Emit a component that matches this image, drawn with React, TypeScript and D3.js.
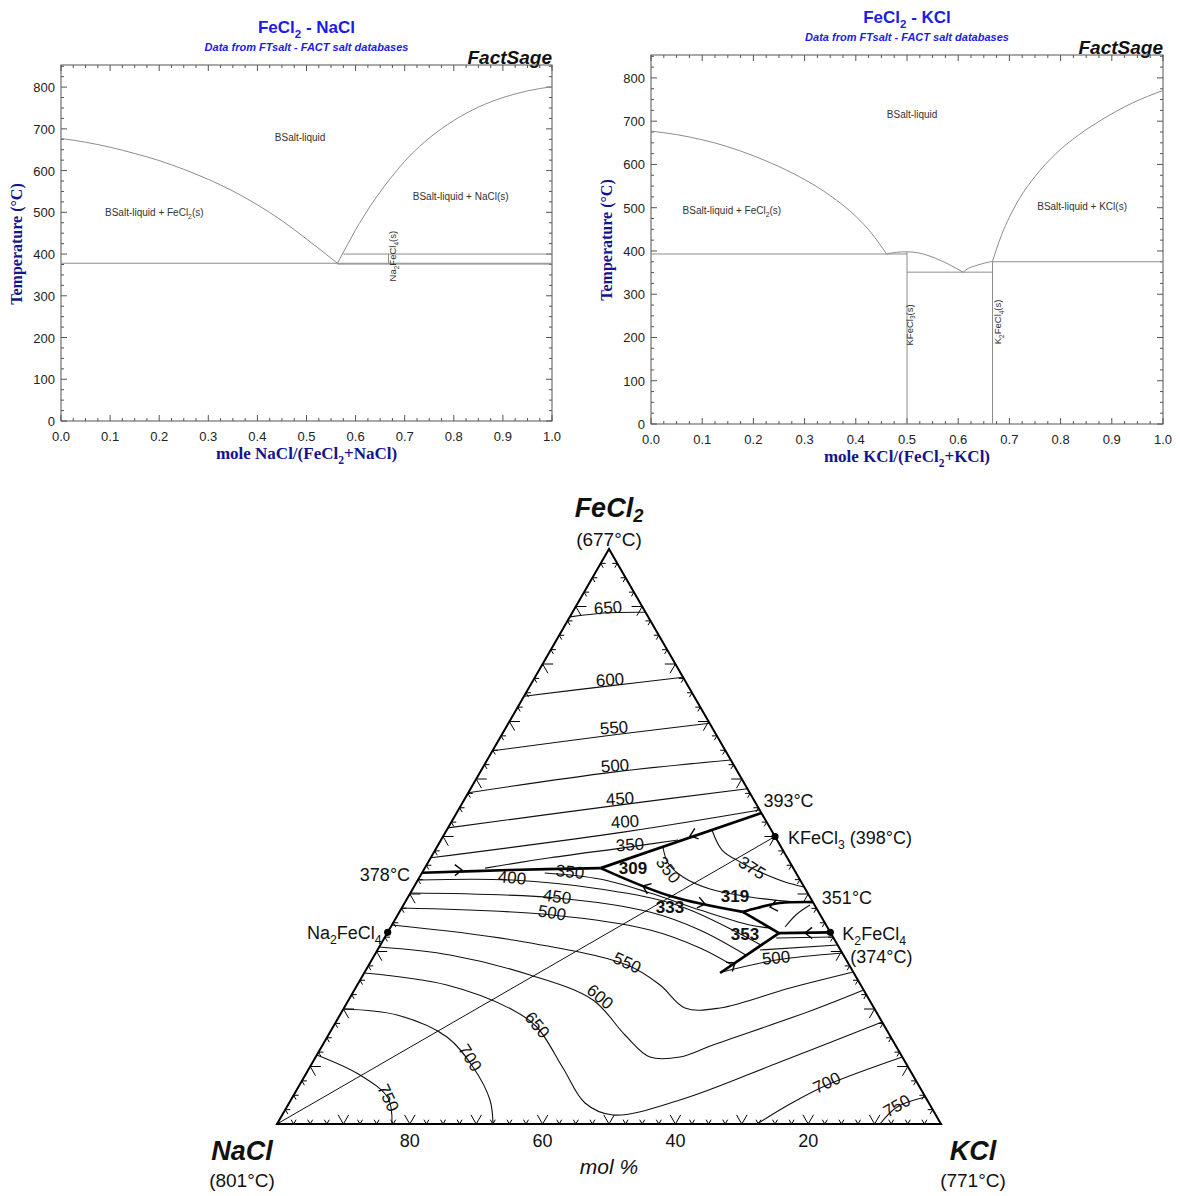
import React from "react";
import * as d3 from "d3";

type P2 = [number, number];

// ================= Binary diagrams =================
const binXTicks = [0, 0.1, 0.2, 0.3, 0.4, 0.5, 0.6, 0.7, 0.8, 0.9, 1.0];
const binTTicks = [0, 100, 200, 300, 400, 500, 600, 700, 800];
const T_MAX = 853;

// FeCl2 – NaCl  ([mole fraction NaCl, T °C])
const naLiqFeCl2: P2[] = [[0, 677], [0.05, 668], [0.1, 656], [0.15, 641], [0.2, 624], [0.25, 603], [0.3, 579], [0.35, 551], [0.4, 518], [0.45, 480], [0.5, 436], [0.563, 378]];
const naLiqNaCl: P2[] = [[0.563, 378], [0.58, 415], [0.6, 458], [0.63, 515], [0.67, 580], [0.71, 635], [0.75, 678], [0.8, 720], [0.85, 752], [0.9, 775], [0.95, 791], [1, 801]];
const naHoriz: [number, number, number][] = [[0, 1, 378], [0.563, 1, 376], [0.575, 1, 400]]; // x1, x2, T
const naVert: [number, number, number][] = [[0.667, 378, 400]]; // x, T1, T2

// FeCl2 – KCl  ([mole fraction KCl, T °C])
const kLiqFeCl2: P2[] = [[0, 677], [0.05, 669], [0.1, 657], [0.15, 641], [0.2, 620], [0.25, 595], [0.3, 565], [0.35, 528], [0.4, 480], [0.43, 442], [0.46, 393]];
const kDome: P2[] = [[0.46, 393], [0.48, 397], [0.5, 398], [0.52, 396], [0.556, 383], [0.58, 370], [0.61, 351]];
const kLiqK2: P2[] = [[0.61, 351], [0.615, 356], [0.637, 367], [0.667, 376]];
const kLiqKCl: P2[] = [[0.667, 376], [0.675, 405], [0.685, 438], [0.7, 478], [0.72, 522], [0.75, 572], [0.79, 624], [0.835, 668], [0.88, 703], [0.94, 742], [1, 771]];
const kHoriz: [number, number, number][] = [[0, 0.5, 393], [0.5, 0.667, 351], [0.667, 1, 375]];
const kVert: [number, number, number][] = [[0.5, 0, 398], [0.667, 0, 376]];

// ================= Ternary FeCl2 – NaCl – KCl =================
// points are [x(KCl), x(FeCl2)] mole fractions
const P378: P2 = [0, 0.437];
const P393: P2 = [0.459, 0.541];
const P309: P2 = [0.265, 0.445];
const P333: P2 = [0.394, 0.3965];
const P319: P2 = [0.517, 0.369];
const P353: P2 = [0.59, 0.332];
const P351: P2 = [0.614, 0.386];
const PEnd: P2 = [0.536, 0.2626];
const compNa2FeCl4: P2 = [0, 1 / 3];
const compKFeCl3: P2 = [0.5, 0.5];
const compK2FeCl4: P2 = [2 / 3, 1 / 3];

const iso650u: P2[] = [[0, 0.882], [0.054, 0.889], [0.11, 0.89]];
const iso600u: P2[] = [[0, 0.744], [0.12, 0.762], [0.223, 0.777]];
const iso550u: P2[] = [[0, 0.649], [0.17, 0.677], [0.303, 0.697]];
const iso500u: P2[] = [[0, 0.576], [0.2, 0.612], [0.367, 0.633]];
const iso450u: P2[] = [[0, 0.515], [0.24, 0.555], [0.417, 0.583]];
const iso400u: P2[] = [[0, 0.463], [0.27, 0.508], [0.454, 0.546]];
const iso350u: P2[] = [[0.091, 0.445], [0.18, 0.463], [0.291, 0.482], [0.357, 0.494]];

const iso350L: P2[] = [[0.185, 0.4365], [0.273, 0.426], [0.361, 0.4017], [0.451, 0.3722], [0.539, 0.3461], [0.572, 0.3409]];
const iso400L: P2[] = [[0, 0.4243], [0.1417, 0.4243], [0.282, 0.4087], [0.417, 0.3791], [0.573, 0.3113]];
const iso450L: P2[] = [[0, 0.4017], [0.225, 0.393], [0.377, 0.3687], [0.468, 0.3374], [0.559, 0.2939]];
const iso500L: P2[] = [[0, 0.3757], [0.2325, 0.3635], [0.393, 0.3374], [0.484, 0.3061], [0.547, 0.2765]];
const iso550: P2[] = [[0, 0.3461], [0.195, 0.32], [0.389, 0.2765], [0.456, 0.2417], [0.5136, 0.2017], [0.5663, 0.2017], [0.6543, 0.2365], [0.7357, 0.2643]];
const iso600: P2[] = [[0, 0.3078], [0.1135, 0.2939], [0.2515, 0.2591], [0.368, 0.2157], [0.4467, 0.1548], [0.5034, 0.1165], [0.5486, 0.1165], [0.588, 0.1374], [0.708, 0.1983], [0.767, 0.233]];
const iso650: P2[] = [[0, 0.2626], [0.135, 0.2417], [0.256, 0.1983], [0.307, 0.1687], [0.382, 0.0974], [0.4456, 0.0365], [0.498, 0.0157], [0.586, 0.0417], [0.7036, 0.1078], [0.8226, 0.1774]];
const iso700a: P2[] = [[0, 0.2], [0.086, 0.1896], [0.1803, 0.1513], [0.2456, 0.0991], [0.2999, 0.0417], [0.3253, 0]];
const iso700b: P2[] = [[0.7229, 0], [0.7552, 0.0348], [0.7944, 0.0678], [0.8835, 0.1165]];
const iso750a: P2[] = [[0, 0.12], [0.0824, 0.0852], [0.1446, 0.0452], [0.1732, 0]];
const iso750b: P2[] = [[0.9081, 0], [0.919, 0.0296], [0.953, 0.047]];
const iso500K: P2[] = [[0.538, 0.2643], [0.609, 0.2852], [0.7026, 0.2974]];
const iso450K: P2[] = [[0.576, 0.3026], [0.6887, 0.3113]];
const iso400K: P2[] = [[0.59, 0.3235], [0.6748, 0.3252]];
const iso375: P2[] = [[0.3994, 0.5113], [0.432, 0.4765], [0.4695, 0.4557], [0.5083, 0.4383], [0.5547, 0.4209], [0.5878, 0.4122]];
const iso350K: P2[] = [[0.3404, 0.4817], [0.3619, 0.4539], [0.3966, 0.4296], [0.4478, 0.4087], [0.5149, 0.3948], [0.5871, 0.3861]];
const isoK2f: P2[] = [[0.5938, 0.3426], [0.6005, 0.3652], [0.6123, 0.3809]];

const thinLines: P2[][] = [iso650u, iso600u, iso550u, iso500u, iso450u, iso400u, iso350u, iso350L, iso400L, iso450L, iso500L, iso550, iso600, iso650, iso700a, iso700b, iso750a, iso750b, iso500K, iso450K, iso400K, iso375, iso350K, isoK2f];

const valley1: P2[] = [P378, [0.13, 0.4417], P309];
const valley2: P2[] = [P393, P309];
const valley3: P2[] = [P309, P333, P319];
const valley4: P2[] = [P351, [0.5653, 0.3843], [0.5351, 0.3757], P319];
const valley5: P2[] = [P319, P353];
const valley6: P2[] = [compK2FeCl4, P353];
const valley7: P2[] = [PEnd, P353];
const thickLines: P2[][] = [valley1, valley2, valley3, valley4, valley5, valley6, valley7];

const joinLine: P2[] = [[0, 0], compKFeCl3];

// arrows: [at, toward]
const arrows: [P2, P2][] = [
  [[0.0577, 0.4417], P309],
  [[0.3716, 0.5009], P309],
  [[0.3442, 0.4139], P309],
  [[0.4533, 0.3826], P319],
  [[0.5538, 0.3774], P319],
  [[0.6291, 0.3322], P353],
  [[0.5498, 0.28], P353],
];

const isoLabels: { t: string; p: P2; r: number }[] = [
  { t: "650", p: [0.0498, 0.8974], r: -4 },
  { t: "600", p: [0.1154, 0.7722], r: -4 },
  { t: "550", p: [0.1632, 0.6887], r: -4 },
  { t: "500", p: [0.1977, 0.6226], r: -4 },
  { t: "450", p: [0.234, 0.5652], r: -4 },
  { t: "400", p: [0.2615, 0.5252], r: -4 },
  { t: "350", p: [0.289, 0.4852], r: -4 },
  { t: "400", p: [0.14, 0.4278], r: 5 },
  { t: "350", p: [0.2222, 0.4383], r: 6 },
  { t: "450", p: [0.2243, 0.3948], r: 8 },
  { t: "500", p: [0.2307, 0.367], r: 9 },
  { t: "550", p: [0.3871, 0.28], r: 25 },
  { t: "600", p: [0.376, 0.2209], r: 40 },
  { t: "650", p: [0.3055, 0.1722], r: 50 },
  { t: "700", p: [0.2333, 0.1148], r: 58 },
  { t: "750", p: [0.1446, 0.0452], r: 65 },
  { t: "700", p: [0.7926, 0.0713], r: -25 },
  { t: "750", p: [0.918, 0.0313], r: -30 },
  { t: "500", p: [0.6072, 0.2887], r: -5 },
  { t: "350", p: [0.368, 0.4417], r: 52 },
  { t: "375", p: [0.4928, 0.4452], r: 32 },
];
const invariantLabels: { t: string; p: P2 }[] = [
  { t: "309", p: [0.3135, 0.4452] },
  { t: "333", p: [0.4041, 0.3757] },
  { t: "319", p: [0.4915, 0.3965] },
  { t: "353", p: [0.5405, 0.3287] },
];
const axisPct = [80, 60, 40, 20];

const FONT = "'Liberation Sans', Arial, Helvetica, sans-serif";
const SERIF = "'Liberation Serif', 'Times New Roman', serif";

function chem(s: string, fs: number, keyBase = "c", shift = 0.28) {
  const parts = s.split(/(_\d+)/).filter((p) => p !== "");
  const out: React.ReactNode[] = [];
  let sub = false;
  parts.forEach((p, i) => {
    if (p.startsWith("_")) {
      out.push(
        <tspan key={keyBase + i} dy={sub ? 0 : fs * shift} fontSize={fs * 0.68}>
          {p.slice(1)}
        </tspan>
      );
      sub = true;
    } else {
      out.push(
        <tspan key={keyBase + i} dy={sub ? -fs * shift : 0}>
          {p}
        </tspan>
      );
      sub = false;
    }
  });
  return out;
}

type PanelProps = {
  box: { l: number; r: number; t: number; b: number };
  title: string;
  xTitle: string;
  curves: P2[][];
  horiz: [number, number, number][];
  vert: [number, number, number][];
  labels: { t: string; x: number; T: number }[];
  vlabels: { t: string; x: number; T: number }[];
  yTitleY: number;
};

function BinaryPanel({ box, title, xTitle, curves, horiz, vert, labels, vlabels, yTitleY }: PanelProps) {
  const x = d3.scaleLinear().domain([0, 1]).range([box.l, box.r]);
  const y = d3.scaleLinear().domain([0, T_MAX]).range([box.b, box.t]);
  const line = d3
    .line<P2>()
    .x((d) => x(d[0]))
    .y((d) => y(d[1]))
    .curve(d3.curveMonotoneX);
  const xMinor = d3.range(0, 40.5, 1).map((i) => i * 0.025);
  const yMinor = d3.range(0, 34.5, 1).map((i) => i * 25);
  const cx = (box.l + box.r) / 2;
  const tickCol = "#555";
  return (
    <g>
      <text x={cx} y={box.t - 32} textAnchor="middle" fontFamily={FONT} fontWeight="bold" fontSize={17} fill="#1c1ce6">
        {chem(title, 17, "t")}
      </text>
      <text x={cx} y={box.t - 14} textAnchor="middle" fontFamily={FONT} fontWeight="bold" fontStyle="italic" fontSize={11} fill="#1c1ce6">
        Data from FTsalt - FACT salt databases
      </text>
      <text x={box.r} y={box.t - 1} textAnchor="end" fontFamily={FONT} fontWeight="bold" fontStyle="italic" fontSize={19} fill="#111">
        FactSage
      </text>
      <rect x={box.l} y={box.t} width={box.r - box.l} height={box.b - box.t} fill="none" stroke={tickCol} strokeWidth={1} />
      {xMinor.map((v, i) => {
        const L = i % 4 === 0 ? 6 : 3;
        return (
          <g key={"xt" + i} stroke={tickCol} strokeWidth={1}>
            <line x1={x(v)} x2={x(v)} y1={box.b} y2={box.b - L} />
            <line x1={x(v)} x2={x(v)} y1={box.t} y2={box.t + L} />
          </g>
        );
      })}
      {yMinor.map((v, i) => {
        const L = i % 4 === 0 ? 6 : 3;
        return (
          <g key={"yt" + i} stroke={tickCol} strokeWidth={1}>
            <line x1={box.l} x2={box.l + L} y1={y(v)} y2={y(v)} />
            <line x1={box.r} x2={box.r - L} y1={y(v)} y2={y(v)} />
          </g>
        );
      })}
      {binXTicks.map((v) => (
        <text key={"xl" + v} x={x(v)} y={box.b + 20} textAnchor="middle" fontFamily={FONT} fontSize={13} fill="#222">
          {v.toFixed(1)}
        </text>
      ))}
      {binTTicks.map((v) => (
        <text key={"yl" + v} x={box.l - 6} y={y(v) + 5} textAnchor="end" fontFamily={FONT} fontSize={13} fill="#222">
          {v}
        </text>
      ))}
      <text x={cx} y={box.b + 38} textAnchor="middle" fontFamily={SERIF} fontWeight="bold" fontSize={17} fill="#14148c">
        {chem(xTitle, 17, "x")}
      </text>
      <text transform={`translate(${box.l - 39},${yTitleY}) rotate(-90)`} textAnchor="middle" fontFamily={SERIF} fontWeight="bold" fontSize={16} fill="#14148c">
        Temperature (°C)
      </text>
      {curves.map((c, i) => (
        <path key={"cv" + i} d={line(c) || ""} fill="none" stroke="#8c8c8c" strokeWidth={1} />
      ))}
      {horiz.map((h, i) => (
        <line key={"h" + i} x1={x(h[0])} x2={x(h[1])} y1={y(h[2])} y2={y(h[2])} stroke="#8c8c8c" strokeWidth={1} />
      ))}
      {vert.map((v, i) => (
        <line key={"v" + i} x1={x(v[0])} x2={x(v[0])} y1={y(v[1])} y2={y(v[2])} stroke="#8c8c8c" strokeWidth={1} />
      ))}
      {labels.map((l, i) => (
        <text key={"pl" + i} x={x(l.x)} y={y(l.T) + 3} textAnchor="middle" fontFamily={FONT} fontSize={10} fill="#333">
          {chem(l.t, 10, "p" + i)}
        </text>
      ))}
      {vlabels.map((l, i) => (
        <text key={"vl" + i} transform={`translate(${x(l.x) + 3},${y(l.T)}) rotate(-90)`} textAnchor="middle" fontFamily={FONT} fontSize={9.5} fill="#333">
          {chem(l.t, 9.5, "q" + i)}
        </text>
      ))}
    </g>
  );
}

function Ternary() {
  const sx = d3.scaleLinear().domain([0, 1]).range([277, 941]);
  const sy = d3.scaleLinear().domain([0, 1]).range([1124, 549]);
  const px = (p: P2) => sx(p[0] + p[1] / 2);
  const py = (p: P2) => sy(p[1]);
  const curve = d3.line<P2>().x(px).y(py).curve(d3.curveCatmullRom.alpha(0.5));
  const straight = d3.line<P2>().x(px).y(py);

  const tickFr = d3.range(1, 40).map((i) => i * 0.025);
  const edges: { base: (t: number) => P2; dirs: P2[] }[] = [
    { base: (t) => [t, 0], dirs: [[0, 1], [-1, 1]] },
    { base: (t) => [0, t], dirs: [[1, 0], [1, -1]] },
    { base: (t) => [1 - t, t], dirs: [[-1, 0], [0, -1]] },
  ];
  const ticks: string[] = [];
  edges.forEach((e) => {
    tickFr.forEach((t, i) => {
      const d = (i + 1) % 4 === 0 ? 0.016 : 0.0075;
      const b = e.base(t);
      e.dirs.forEach((dir) => {
        const q: P2 = [b[0] + dir[0] * d, b[1] + dir[1] * d];
        ticks.push(straight([b, q]) || "");
      });
    });
  });

  const arrowPath = (at: P2, to: P2) => {
    const ax = px(at), ay = py(at);
    const th = Math.atan2(py(to) - ay, px(to) - ax);
    const len = 9, ph = (38 * Math.PI) / 180;
    return `M${ax - len * Math.cos(th - ph)},${ay - len * Math.sin(th - ph)}L${ax},${ay}L${ax - len * Math.cos(th + ph)},${ay - len * Math.sin(th + ph)}`;
  };

  const ptLab = (p: P2, dx: number, dy: number) => ({ x: px(p) + dx, y: py(p) + dy });
  const l378 = ptLab(P378, -12, 8);
  const lNa = ptLab(compNa2FeCl4, -6, 7);
  const l393 = ptLab(P393, 2, -6);
  const lKF = ptLab(compKFeCl3, 13, 7);
  const l351 = ptLab(P351, 9, 2);
  const lK2 = ptLab(compK2FeCl4, 12, 8);
  const lK2b = ptLab(compK2FeCl4, 20, 31);
  const apex: P2 = [0, 1];
  const vNa: P2 = [0, 0];
  const vK: P2 = [1, 0];

  return (
    <g fontFamily={FONT} fill="#111">
      <path d={straight([vNa, vK, apex, vNa]) + "Z"} fill="none" stroke="#000" strokeWidth={2} strokeLinejoin="miter" />
      {ticks.map((d, i) => (
        <path key={"tk" + i} d={d} stroke="#000" strokeWidth={1} fill="none" />
      ))}
      <path d={straight(joinLine) || ""} stroke="#111" strokeWidth={1} fill="none" />
      {thinLines.map((c, i) => (
        <path key={"iso" + i} d={curve(c) || ""} stroke="#111" strokeWidth={1.1} fill="none" />
      ))}
      {thickLines.map((c, i) => (
        <path key={"th" + i} d={curve(c) || ""} stroke="#000" strokeWidth={2.7} fill="none" strokeLinejoin="round" />
      ))}
      {arrows.map((a, i) => (
        <path key={"ar" + i} d={arrowPath(a[0], a[1])} stroke="#000" strokeWidth={1.4} fill="none" />
      ))}
      {[compNa2FeCl4, compKFeCl3, compK2FeCl4].map((p, i) => (
        <circle key={"dot" + i} cx={px(p)} cy={py(p)} r={3.6} fill="#000" />
      ))}
      {isoLabels.map((l, i) => (
        <text key={"il" + i} transform={`translate(${px(l.p)},${py(l.p)}) rotate(${l.r})`} textAnchor="middle" dominantBaseline="central" fontSize={17} fill="#111">
          {l.t}
        </text>
      ))}
      {invariantLabels.map((l, i) => (
        <text key={"inv" + i} x={px(l.p)} y={py(l.p)} textAnchor="middle" dominantBaseline="central" fontSize={17} fontWeight="bold" fill="#111">
          {l.t}
        </text>
      ))}
      <text x={l378.x} y={l378.y} textAnchor="end" fontSize={18}>378°C</text>
      <text x={lNa.x} y={lNa.y} textAnchor="end" fontSize={18}>{chem("Na_2FeCl_4", 18, "na")}</text>
      <text x={l393.x} y={l393.y} fontSize={18}>393°C</text>
      <text x={lKF.x} y={lKF.y} fontSize={18}>{chem("KFeCl_3 (398°C)", 18, "kf")}</text>
      <text x={l351.x} y={l351.y} fontSize={18}>351°C</text>
      <text x={lK2.x} y={lK2.y} fontSize={18}>{chem("K_2FeCl_4", 18, "k2")}</text>
      <text x={lK2b.x} y={lK2b.y} fontSize={18}>(374°C)</text>

      <text x={px(apex)} y={py(apex) - 32} textAnchor="middle" fontSize={27} fontWeight="bold" fontStyle="italic">
        {chem("FeCl_2", 27, "fe", 0.2)}
      </text>
      <text x={px(apex)} y={py(apex) - 3} textAnchor="middle" fontSize={19}>(677°C)</text>
      <text x={px(vNa) - 35} y={py(vNa) + 36} textAnchor="middle" fontSize={27} fontWeight="bold" fontStyle="italic">NaCl</text>
      <text x={px(vNa) - 35} y={py(vNa) + 63} textAnchor="middle" fontSize={19}>(801°C)</text>
      <text x={px(vK) + 32} y={py(vK) + 36} textAnchor="middle" fontSize={27} fontWeight="bold" fontStyle="italic">KCl</text>
      <text x={px(vK) + 32} y={py(vK) + 63} textAnchor="middle" fontSize={19}>(771°C)</text>
      {axisPct.map((v) => (
        <text key={"ax" + v} x={px([1 - v / 100, 0])} y={py([0, 0]) + 23} textAnchor="middle" fontSize={18}>
          {v}
        </text>
      ))}
      <text x={sx(0.5)} y={py([0, 0]) + 50} textAnchor="middle" fontSize={21} fontStyle="italic">mol %</text>
    </g>
  );
}

export default function App() {
  return (
    <svg width={1180} height={1196} viewBox="0 0 1180 1196" style={{ position: "absolute", left: 0, top: 0, background: "#fff" }}>
      <rect x={0} y={0} width={1180} height={1196} fill="#fff" />
      <BinaryPanel
        box={{ l: 61, r: 552, t: 65, b: 421 }}
        title="FeCl_2 - NaCl"
        xTitle="mole NaCl/(FeCl_2+NaCl)"
        curves={[naLiqFeCl2, naLiqNaCl]}
        horiz={naHoriz}
        vert={naVert}
        labels={[
          { t: "BSalt-liquid", x: 0.487, T: 677 },
          { t: "BSalt-liquid + FeCl_2(s)", x: 0.19, T: 498 },
          { t: "BSalt-liquid + NaCl(s)", x: 0.814, T: 537 },
        ]}
        vlabels={[{ t: "Na_2FeCl_4(s)", x: 0.676, T: 395 }]}
        yTitleY={244}
      />
      <BinaryPanel
        box={{ l: 651, r: 1163, t: 55, b: 424 }}
        title="FeCl_2 - KCl"
        xTitle="mole KCl/(FeCl_2+KCl)"
        curves={[kLiqFeCl2, kDome, kLiqK2, kLiqKCl]}
        horiz={kHoriz}
        vert={kVert}
        labels={[
          { t: "BSalt-liquid", x: 0.51, T: 714 },
          { t: "BSalt-liquid + FeCl_2(s)", x: 0.158, T: 492 },
          { t: "BSalt-liquid + KCl(s)", x: 0.842, T: 502 },
        ]}
        vlabels={[
          { t: "KFeCl_3(s)", x: 0.505, T: 229 },
          { t: "K_2FeCl_4(s)", x: 0.678, T: 236 },
        ]}
        yTitleY={240}
      />
      <Ternary />
    </svg>
  );
}
